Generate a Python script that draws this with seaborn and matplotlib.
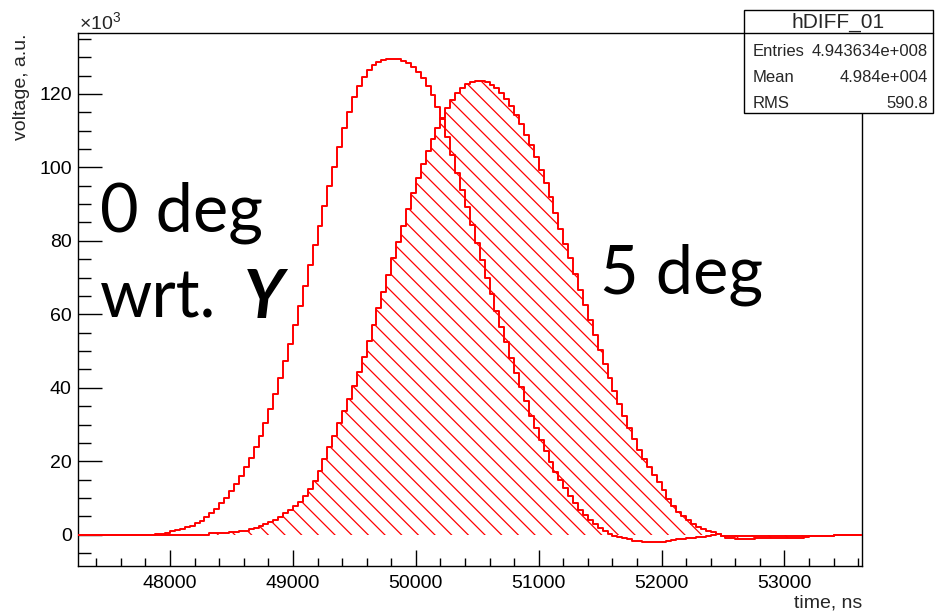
import numpy as np
import matplotlib
matplotlib.use("Agg")
import matplotlib.pyplot as plt
import seaborn as sns
from matplotlib.patches import Rectangle
from matplotlib.lines import Line2D
from matplotlib.ticker import MultipleLocator, FixedLocator

# ---------------- data (values in units of 10^3) ----------------
time_start_ns = 47240
bin_width_ns = 40

voltage_0deg_k = [
    0, 0, 0, 0, 0, 0, 0, 0, 0, 0,
    0, 0, 0, 0, 0, 0, 0.3, 0.3, 0.4, 1.0,
    1.3, 1.6, 2.0, 2.5, 3.1, 3.8, 4.7, 5.8, 7.1, 8.5,
    10.0, 11.8, 13.8, 16.0, 18.4, 21.0, 23.8, 27.0, 30.5, 34.3,
    38.3, 42.6, 47.2, 52.0, 57.0, 62.3, 67.8, 73.3, 78.8, 84.0,
    89.4, 94.8, 100.2, 105.6, 110.6, 115.2, 119.1, 122.2, 124.7, 126.4,
    127.8, 128.7, 129.3, 129.6, 129.6, 129.4, 128.9, 128.3, 127.2, 125.9,
    124.3, 122.2, 119.6, 116.5, 113.2, 108.4, 103.4, 98.5, 93.9, 89.2,
    84.2, 79.4, 74.7, 70.0, 65.4, 60.8, 56.6, 52.4, 48.0, 44.0,
    40.2, 36.3, 32.4, 29.0, 25.8, 22.7, 19.9, 17.2, 14.9, 12.6,
    10.4, 8.5, 6.8, 5.4, 4.1, 3.0, 1.8, 0.9, 0.2, -0.4,
    -0.7, -1.0, -1.3, -1.6, -1.8, -2.0, -2.1, -2.1, -2.1, -2.0,
    -1.7, -1.5, -1.3, -1.2, -1.0, -0.9, -0.7, -0.5, -0.35, -0.2,
    0.1, -0.3, -0.3, -0.3, -0.3, -0.3, -0.3, -0.3, -0.3, -0.3,
    -0.3, -0.3, -0.3, -0.3, -0.3, -0.3, -0.3, -0.3, -0.3, -0.3,
    -0.3, -0.3, -0.3, -0.3, 0, 0, 0, 0, 0, 0,
]

voltage_5deg_k = [
    0, 0, 0, 0, 0, 0, 0, 0, 0, 0,
    0, 0, 0, 0, 0, 0, 0, 0, 0, 0,
    0, 0, 0, 0, 0, 0, 0, 0.4, 0.4, 0.4,
    0.4, 0.7, 0.7, 0.9, 1.1, 1.5, 1.9, 2.3, 2.8, 3.4,
    4.1, 4.9, 5.8, 6.7, 7.8, 9.0, 10.5, 12.4, 14.6, 17.4,
    20.6, 23.8, 27.0, 30.3, 33.6, 37.0, 40.5, 44.4, 48.5, 52.7,
    57.1, 61.6, 66.1, 70.6, 75.2, 79.7, 84.1, 88.7, 93.0, 97.1,
    100.9, 104.4, 107.6, 110.6, 113.5, 116.1, 118.4, 120.2, 121.6, 122.6,
    123.2, 123.6, 123.6, 123.2, 122.5, 121.5, 120.2, 118.7, 116.6, 114.3,
    111.8, 108.9, 106.0, 102.9, 99.4, 95.7, 91.8, 87.6, 83.3, 79.2,
    75.2, 71.0, 66.7, 62.4, 58.4, 54.4, 50.4, 46.6, 42.7, 39.0,
    35.6, 32.2, 29.0, 26.0, 23.1, 20.5, 18.3, 16.2, 14.3, 12.2,
    9.8, 7.8, 6.3, 5.0, 4.0, 2.9, 2.1, 1.5, 1.1, 0.6,
    0.2, -0.4, -0.9, -1.0, -1.1, -1.1, -1.1, -1.1, -1.0, -1.0,
    -1.0, -1.0, -0.9, -0.9, -0.9, -0.8, -0.8, -0.8, -0.7, -0.3,
    -0.3, -0.3, -0.3, -0.3, 0, 0, 0, 0, 0, 0,
]

x_tick_values = [48000, 49000, 50000, 51000, 52000, 53000]
y_tick_values = [0, 20, 40, 60, 80, 100, 120]

stats_title = "hDIFF_01"
stats_names = ["Entries", "Mean", "RMS"]
stats_values = ["4.943634e+008", "4.984e+004", "590.8"]

# ---------------- style ----------------
sns.set_theme(style="white")
plt.rcParams["font.family"] = ["Liberation Sans", "DejaVu Sans"]
plt.rcParams["mathtext.fontset"] = "custom"
plt.rcParams["mathtext.rm"] = "Liberation Sans"
plt.rcParams["mathtext.it"] = "Liberation Sans:italic"
plt.rcParams["hatch.linewidth"] = 0.9

W, H = 935, 613
fig = plt.figure(figsize=(W / 100, H / 100), dpi=100)
fig.patch.set_facecolor("white")

ax_l, ax_r, ax_t, ax_b = 78, 862, 33.3, 565.7
ax = fig.add_axes([ax_l / W, 1 - ax_b / H, (ax_r - ax_l) / W, (ax_b - ax_t) / H])
ax.set_facecolor("white")

n = len(voltage_0deg_k)
edges = time_start_ns + bin_width_ns * np.arange(n + 1)
y0 = np.append(voltage_0deg_k, voltage_0deg_k[-1])
y5 = np.append(voltage_5deg_k, voltage_5deg_k[-1])

# hatched 5 deg histogram
ax.fill_between(edges, y5, 0, step="post", facecolor="none", edgecolor="red",
                hatch="\\\\", linewidth=0, zorder=2)
sns.lineplot(x=edges, y=y5, drawstyle="steps-post", color="red", linewidth=1.4,
             estimator=None, sort=False, ax=ax, zorder=3)
# 0 deg histogram (outline only)
sns.lineplot(x=edges, y=y0, drawstyle="steps-post", color="red", linewidth=1.4,
             estimator=None, sort=False, ax=ax, zorder=3)

ax.set_xlim(47251, 53631)
ax.set_ylim(-8.44, 136.5)
ax.set_xlabel("")
ax.set_ylabel("")

for s in ax.spines.values():
    s.set_visible(True)
    s.set_color("black")
    s.set_linewidth(1.0)

ax.xaxis.set_major_locator(FixedLocator(x_tick_values))
ax.yaxis.set_major_locator(FixedLocator(y_tick_values))
ax.xaxis.set_minor_locator(MultipleLocator(200))
ax.yaxis.set_minor_locator(MultipleLocator(5))
ax.set_xticklabels([str(v) for v in x_tick_values])
ax.set_yticklabels([str(v) for v in y_tick_values])

ax.tick_params(axis="both", which="both", direction="in", top=False, right=False,
               colors="black", width=1.0, labelsize=14)
ax.tick_params(axis="y", which="major", length=17, pad=4.5, left=True)
ax.tick_params(axis="y", which="minor", length=9, left=True)
ax.tick_params(axis="x", which="major", length=11.5, pad=6.5, bottom=True)
ax.tick_params(axis="x", which="minor", length=5.8, bottom=True)

# axis titles (ROOT style)
fig.text(ax_r / W, 1 - 603 / H, "time, ns", ha="right", va="center", fontsize=14)
fig.text(22 / W, 1 - ax_t / H, "voltage, a.u.", rotation=90, ha="center", va="top",
         fontsize=14)
fig.text(79 / W, 1 - 29 / H, r"$\times10^{3}$", ha="left", va="baseline", fontsize=14)

# stats box
bx0, bx1, by0, by1, bsep = 744, 933, 10, 113, 33.3
fig.patches.append(Rectangle((bx0 / W, 1 - by1 / H), (bx1 - bx0) / W, (by1 - by0) / H,
                             transform=fig.transFigure, facecolor="white",
                             edgecolor="black", linewidth=1.0, zorder=5))
fig.lines.append(Line2D([bx0 / W, bx1 / W], [1 - bsep / H, 1 - bsep / H],
                        transform=fig.transFigure, color="black", linewidth=1.0, zorder=6))
fig.text((bx0 + bx1) / 2 / W, 1 - 22 / H, stats_title, ha="center", va="center",
         fontsize=15, zorder=7)
row_y = [51.5, 77.5, 103]
for name, val, ry in zip(stats_names, stats_values, row_y):
    fig.text(753 / W, 1 - ry / H, name, ha="left", va="center", fontsize=12, zorder=7)
    fig.text(928 / W, 1 - ry / H, val, ha="right", va="center", fontsize=12, zorder=7)

# slide annotations
big = dict(fontsize=48, family=["Lato", "DejaVu Sans"], color="black", va="baseline")
fig.text(100 / W, 1 - 231 / H, "0 deg", ha="left", **big)
fig.text(100 / W, 1 - 318 / H, "wrt.", ha="left", **big)
fig.text(244 / W, 1 - 318 / H, "Y", ha="left", fontweight="bold", fontstyle="italic", **big)
fig.text(600 / W, 1 - 293 / H, "5 deg", ha="left", **big)

fig.savefig("out.png", dpi=100)
